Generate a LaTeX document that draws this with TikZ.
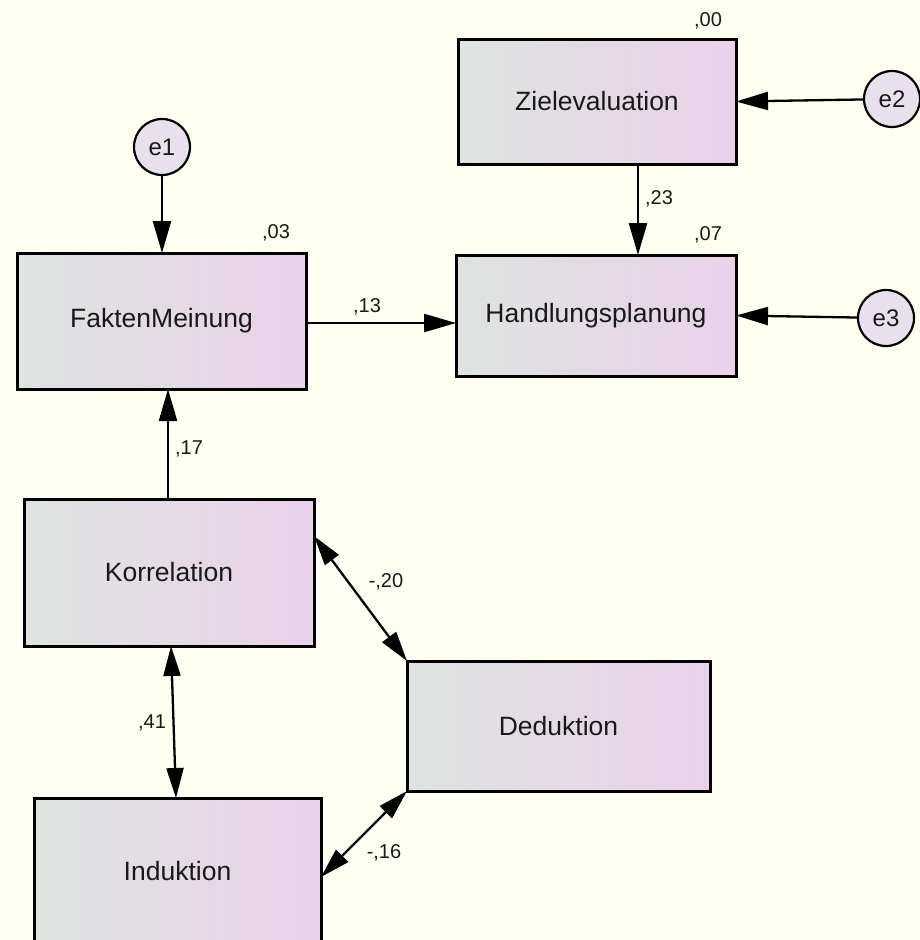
\documentclass[tikz,border=0pt]{standalone}
\usepackage{fontspec}
\setmainfont{Liberation Sans}
\usetikzlibrary{arrows.meta,calc}
\definecolor{bg}{RGB}{255,255,242}
\definecolor{boxL}{RGB}{222,228,224}
\definecolor{boxR}{RGB}{234,209,234}
\definecolor{circF}{RGB}{233,224,238}
\definecolor{txt}{RGB}{25,25,25}
\tikzset{
  varbox/.style={draw=black, line width=3pt, left color=boxL, right color=boxR,
    inner sep=0pt, outer sep=0pt, text=txt, font=\fontsize{26.5}{31}\selectfont},
  errc/.style={circle, draw=black, line width=2.2pt, fill=circF, minimum size=56pt,
    inner sep=0pt, outer sep=0pt, text=txt, font=\fontsize{24}{28}\selectfont},
  lbl/.style={inner sep=0pt, text=txt, font=\fontsize{20}{24}\selectfont},
  arr/.style={line width=2.3pt, -{Triangle[length=32pt,width=18pt]}},
  darr/.style={line width=2.3pt, {Triangle[length=30pt,width=17pt]}-{Triangle[length=30pt,width=17pt]}},
}
\begin{document}
\begin{tikzpicture}[x=1pt,y=-1pt]
\path[use as bounding box, fill=bg] (0,0) rectangle (920,940);
\clip (0,0) rectangle (920,940);

% boxes
\node[varbox, minimum width=289pt, minimum height=136pt] (fm) at (161.5,321) {FaktenMeinung};
\node[varbox, minimum width=278pt, minimum height=125pt] (ze) at (597,101.5) {Zielevaluation};
\node[varbox, minimum width=280pt, minimum height=121pt] (hp) at (596,315.5) {Handlungsplanung};
\node[varbox, minimum width=290pt, minimum height=147pt] (ko) at (169,572.5) {Korrelation};
\node[varbox, minimum width=303pt, minimum height=130pt] (de) at (558.5,726) {Deduktion};
\node[varbox, minimum width=287pt, minimum height=147pt] (in) at (177.5,871.5) {Induktion};

% error circles
\node[errc] (e1) at (162,147) {e1};
\node[errc] (e2) at (892,99) {e2};
\node[errc] (e3) at (886,318) {e3};

% connectors
\draw[arr] (e1) -- (e1 |- fm.north);
\draw[arr] (e2) -- (ze.east);
\draw[arr] (e3) -- (hp.east);
\coordinate (zeS) at ([xshift=41pt]ze.south);
\draw[arr] (zeS) -- (zeS |- hp.north);
\coordinate (fmE) at ([yshift=-2pt]fm.east);
\draw[arr] (fmE) -- (fmE -| hp.west);
\coordinate (koN) at ([xshift=-1pt]ko.north);
\draw[arr] (koN) -- (koN |- fm.south);
\draw[darr] ([xshift=2pt]ko.south) -- ([xshift=-1.5pt]in.north);
\draw[darr] ([yshift=-37pt]ko.north east) -- (de.north west);
\draw[darr] (de.south west) -- ([yshift=-79pt]in.north east);

% labels
\node[lbl] (v03) at (276,233) {,03};
\node[lbl] (v00) at (708,21) {,00};
\node[lbl] (v07) at (708,235) {,07};
\node[lbl] (l23) at (659,199) {,23};
\node[lbl] (l13) at (367,307) {,13};
\node[lbl] (l17) at (189,449) {,17};
\node[lbl] (l41) at (152,723) {,41};
\node[lbl] (l20) at (386,582) {-,20};
\node[lbl] (l16) at (384,853) {-,16};
\end{tikzpicture}
\end{document}
